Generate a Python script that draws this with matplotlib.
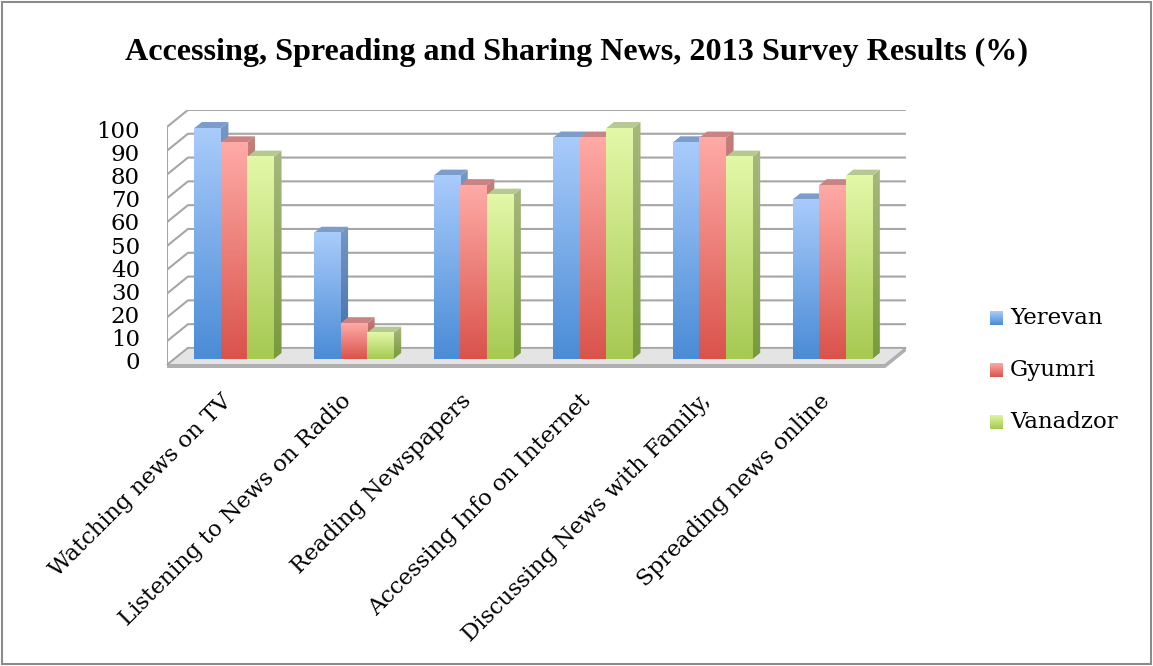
import numpy as np
import matplotlib.pyplot as plt
from matplotlib.colors import LinearSegmentedColormap
from matplotlib.patches import Polygon, Rectangle
from matplotlib.transforms import offset_copy

categories = ["Watching news on TV", "Listening to News on Radio", "Reading Newspapers",
              "Accessing Info on Internet", "Discussing News with Family,", "Spreading news online"]
cities = ["Yerevan", "Gyumri", "Vanadzor"]
yerevan = [97, 53, 77, 93, 91, 67]
gyumri = [91, 15, 73, 93, 93, 73]
vanadzor = [85, 11, 69, 97, 85, 77]
yticks = list(range(0, 101, 10))

# (front top, front bottom, side top, side bottom, top face)
palette = {
    "Yerevan": ("#a9cbfb", "#4a8cd6", "#7797c4", "#3f6ca6", "#7c9ccb"),
    "Gyumri": ("#ffaaa6", "#d9534b", "#c47f7d", "#a04541", "#c98382"),
    "Vanadzor": ("#e3f8a8", "#a6c952", "#a7b87f", "#789a3c", "#b6c990"),
}

plt.rcParams["font.family"] = "DejaVu Serif"

fig = plt.figure(figsize=(11.53, 6.66), dpi=100)
fig.patches.append(Rectangle((0.002, 0.003), 0.996, 0.994, transform=fig.transFigure,
                             fill=False, edgecolor="#8c8c8c", linewidth=1.5))

ax = fig.add_axes([0.1448, 0.4520, 0.6409, 0.3829])

# oblique "3d" offset for full depth, in data units
DX, DY = 0.1755, 7.14
D0, D1 = 0.35, 0.71
grid = "#a6a6a6"


def proj(x, y, d):
    return x + d * DX, y + d * DY


def gradient(extent, top, bottom, z, clip=None):
    cmap = LinearSegmentedColormap.from_list("g", [bottom, top])
    im = ax.imshow(np.linspace(0, 1, 128).reshape(-1, 1), cmap=cmap, extent=extent,
                   origin="lower", aspect="auto", interpolation="bilinear", zorder=z)
    if clip is not None:
        im.set_clip_path(clip)
    return im


# walls
for v in yticks:
    p0, p1, p2 = proj(-0.5, v, 0), proj(-0.5, v, 1), proj(5.5, v, 1)
    ax.plot([p0[0], p1[0], p2[0]], [p0[1], p1[1], p2[1]], color=grid, lw=1.5, zorder=1,
            solid_capstyle="butt")
ax.plot([-0.5, -0.5], [0, 100], color=grid, lw=1.5, zorder=1)

# floor
t = 1.4
floor = [proj(-0.5, 0, 0), proj(5.5, 0, 0), proj(5.5, 0, 1), proj(-0.5, 0, 1)]
ax.add_patch(Polygon(floor, closed=True, facecolor="#e4e4e4", edgecolor=grid, lw=1.2,
                     zorder=2, clip_on=False))
ax.add_patch(Polygon([(-0.5, 0), (5.5, 0), (5.5, -t), (-0.5, -t)], closed=True,
                     facecolor="#b0b0b0", edgecolor="none", zorder=2, clip_on=False))
ax.add_patch(Polygon([proj(5.5, 0, 0), proj(5.5, 0, 1), proj(5.5, -t, 1), proj(5.5, -t, 0)],
                     closed=True, facecolor="#b0b0b0", edgecolor="none", zorder=2, clip_on=False))

# bars
w = 0.222
series = [yerevan, gyumri, vanadzor]
z = 3.0
for i in range(len(categories)):
    for j, (name, vals) in enumerate(zip(cities, series)):
        v = vals[i]
        ft, fb, st, sb, tc = palette[name]
        x0 = i - 1.5 * w + j * w
        x1 = x0 + w
        # side face
        side = [proj(x1, 0, D0), proj(x1, 0, D1), proj(x1, v, D1), proj(x1, v, D0)]
        sp = Polygon(side, closed=True, transform=ax.transData, facecolor="none",
                     edgecolor="none")
        xs, ys = zip(*side)
        gradient([min(xs), max(xs), min(ys), max(ys)], st, sb, z, clip=sp)
        # top face
        top = [proj(x0, v, D0), proj(x1, v, D0), proj(x1, v, D1), proj(x0, v, D1)]
        ax.add_patch(Polygon(top, closed=True, facecolor=tc, edgecolor="none", zorder=z + 0.01))
        # front face
        fx0, fy0 = proj(x0, 0, D0)
        fx1, fy1 = proj(x1, v, D0)
        gradient([fx0, fx1, fy0, fy1], ft, fb, z + 0.02)
        z += 0.1

ax.set_xlim(-0.5, 5.5 + DX)
ax.set_ylim(0, 100 + DY)
ax.axis("off")

# value axis labels (spread slightly tighter than the wall gridlines)
ytr = offset_copy(ax.transData, fig, x=-27, y=0, units="dots")
for v in yticks:
    ax.text(-0.5, 0.84 + 0.97 * v, str(v), ha="right", va="center", fontsize=16.5,
            transform=ytr)

# category labels
xtr = offset_copy(ax.transData, fig, x=-10, y=-25, units="dots")
for i, c in enumerate(categories):
    ax.text(i + 0.03, 0, c, rotation=45, rotation_mode="anchor", ha="right", va="top",
            fontsize=16.3, transform=xtr)

fig.text(0.5, 1 - 60 / 666, "Accessing, Spreading and Sharing News, 2013 Survey Results (%)",
         ha="center", va="baseline", fontsize=23.1, fontweight="bold",
         family="Liberation Serif")

# legend with gradient swatches
for k, name in enumerate(cities):
    ycen = 1 - (318 + 52 * k) / 666
    sw = fig.add_axes([990 / 1153, ycen - 7 / 666, 13 / 1153, 14 / 666])
    ft, fb = palette[name][:2]
    sw.imshow(np.linspace(0, 1, 64).reshape(-1, 1),
              cmap=LinearSegmentedColormap.from_list("s", [fb, ft]),
              origin="lower", aspect="auto")
    sw.axis("off")
    fig.text(1010 / 1153, ycen, name, ha="left", va="center", fontsize=16.5)

fig.savefig("out.png", dpi=100)
